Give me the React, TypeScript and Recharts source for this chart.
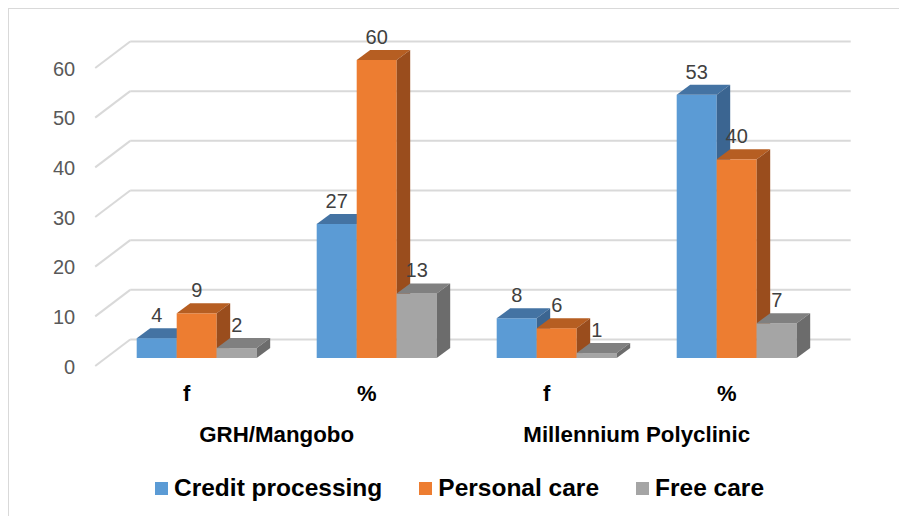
import React from "react";
import { BarChart, Bar, XAxis, YAxis, CartesianGrid, Legend, LabelList } from "recharts";

const groups = ["GRH/Mangobo", "Millennium Polyclinic"];
const measures = ["f", "%"];
const creditProcessing = [4, 27, 8, 53];
const personalCare = [9, 60, 6, 40];
const freeCare = [2, 13, 1, 7];
const yTicks = [0, 10, 20, 30, 40, 50, 60];

const series = [
  { key: "credit", name: "Credit processing", front: "#5B9BD5", top: "#4473A3", side: "#3B6591" },
  { key: "personal", name: "Personal care", front: "#ED7D31", top: "#B65E22", side: "#9A4D1D" },
  { key: "free", name: "Free care", front: "#A5A5A5", top: "#808080", side: "#6C6C6C" },
];

const data = groups.flatMap((g, gi) =>
  measures.map((m, mi) => {
    const i = gi * measures.length + mi;
    return {
      key: `${g}|${m}`,
      credit: creditProcessing[i],
      personal: personalCare[i],
      free: freeCare[i],
    };
  })
);

const FONT = "'Liberation Sans', Arial, sans-serif";
const DX = 13.5;
const DY = -10;

const makeShape = (s: any) => (props: any) => {
  const { x, y, width, height } = props;
  if (width == null || height == null) return <g />;
  return (
    <g>
      <rect x={x} y={y} width={width} height={height} fill={s.front} />
      <polygon
        points={`${x},${y} ${x + width},${y} ${x + width + DX},${y + DY} ${x + DX},${y + DY}`}
        fill={s.top}
      />
      <polygon
        points={`${x + width},${y} ${x + width + DX},${y + DY} ${x + width + DX},${y + height + DY} ${x + width},${y + height}`}
        fill={s.side}
      />
    </g>
  );
};

const renderLabel = (props: any) => {
  const vb = props.viewBox && props.viewBox.width != null ? props.viewBox : props;
  const { x, y, width } = vb;
  return (
    <text
      x={x + width / 2}
      y={y - 23}
      textAnchor="middle"
      dominantBaseline="central"
      fontSize={20}
      fontFamily={FONT}
      fill="#404040"
    >
      {props.value}
    </text>
  );
};

const gridLine = (props: any) => {
  const { x1, y1, x2, index } = props;
  const bx = x1 + 23.5;
  const by = y1 - 18.5;
  return (
    <g key={`gl-${index}`}>
      <line x1={bx} y1={by} x2={x2 + 24} y2={by} stroke="#D9D9D9" strokeWidth={2} />
      <line x1={bx} y1={by} x2={x1 - 11.5} y2={y1 + 8} stroke="#D9D9D9" strokeWidth={2} />
    </g>
  );
};

const YTick = (props: any) => {
  const { x, y, payload } = props;
  return (
    <text
      x={x - 31.5}
      y={y + 8.5}
      textAnchor="end"
      dominantBaseline="central"
      fontSize={20}
      fontFamily={FONT}
      fill="#595959"
    >
      {payload.value}
    </text>
  );
};

const XTick = (props: any) => {
  const { x, y, payload, index } = props;
  const [g, m] = String(payload.value).split("|");
  const showGroup = index % measures.length === 0;
  return (
    <g>
      <text
        x={x - 10}
        y={y + 35}
        textAnchor="middle"
        dominantBaseline="central"
        fontSize={22}
        fontWeight="bold"
        fontFamily={FONT}
        fill="#000"
      >
        {m}
      </text>
      {showGroup && (
        <text
          x={x + 90 - 10}
          y={y + 76}
          textAnchor="middle"
          dominantBaseline="central"
          fontSize={22.3}
          fontWeight="bold"
          fontFamily={FONT}
          fill="#000"
        >
          {g}
        </text>
      )}
    </g>
  );
};

const renderLegend = (props: any) => {
  const payload = [...(props.payload || [])].sort(
    (a: any, b: any) =>
      series.findIndex((s) => s.name === a.value) - series.findIndex((s) => s.name === b.value)
  );
  return (
    <div style={{ display: "flex", alignItems: "center", height: 30, fontFamily: FONT }}>
      {payload.map((p: any, i: number) => (
        <div
          key={i}
          style={{ display: "flex", alignItems: "center", marginRight: i < payload.length - 1 ? 37 : 0 }}
        >
          <div style={{ width: 13, height: 13, background: p.color, marginRight: 6 }} />
          <span style={{ fontSize: 24.5, fontWeight: "bold", color: "#000", lineHeight: "30px" }}>
            {p.value}
          </span>
        </div>
      ))}
    </div>
  );
};

export default function App() {
  return (
    <div style={{ position: "absolute", left: 0, top: 0, width: 899, height: 516, overflow: "hidden", background: "#fff" }}>
      <div
        style={{
          position: "absolute",
          left: 8,
          top: 8,
          width: 920,
          height: 540,
          borderLeft: "1px solid #D9D9D9",
          borderTop: "1px solid #D9D9D9",
        }}
      />
      <div style={{ position: "absolute", left: 0, top: 0 }}>
        <BarChart
          width={899}
          height={516}
          data={data}
          margin={{ top: 60, right: 72.3, bottom: 58, left: 0 }}
          barSize={40}
          barGap={0}
        >
          <CartesianGrid vertical={false} horizontal={gridLine} />
          <XAxis
            dataKey="key"
            axisLine={false}
            tickLine={false}
            tickSize={0}
            tickMargin={0}
            height={100}
            interval={0}
            tick={<XTick />}
          />
          <YAxis
            domain={[0, 60]}
            ticks={yTicks}
            axisLine={false}
            tickLine={false}
            tickSize={0}
            tickMargin={0}
            width={106.7}
            tick={<YTick />}
            interval={0}
          />
          {series.map((s) => (
            <Bar
              key={s.key}
              dataKey={s.key}
              name={s.name}
              fill={s.front}
              shape={makeShape(s)}
              isAnimationActive={false}
            >
              <LabelList dataKey={s.key} content={renderLabel} />
            </Bar>
          ))}
          <Legend
            layout="horizontal"
            verticalAlign="middle"
            align="center"
            itemSorter={null as any}
            wrapperStyle={{ top: 473, left: 155, width: 720, height: 30 }}
            content={renderLegend}
          />
        </BarChart>
      </div>
    </div>
  );
}
